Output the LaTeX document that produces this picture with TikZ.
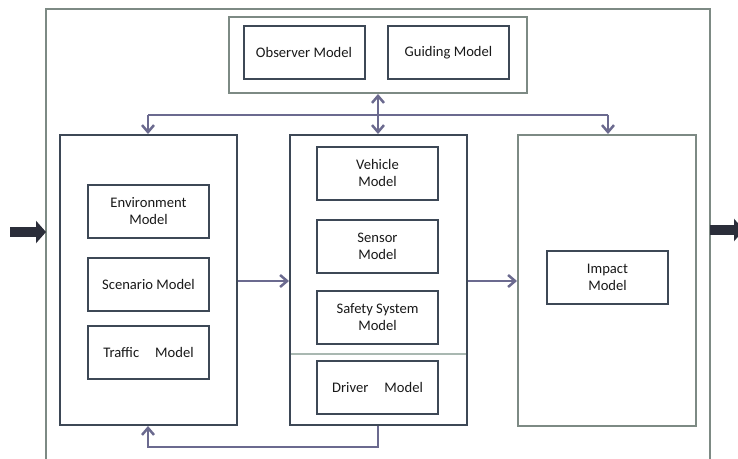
\documentclass[tikz,border=0pt]{standalone}
\usepackage{fontspec}
\setmainfont{Carlito}
\usetikzlibrary{arrows.meta}
\definecolor{boxline}{HTML}{3D4856}
\definecolor{frameline}{HTML}{7D8A84}
\definecolor{sepline}{HTML}{A9B8B1}
\definecolor{flow}{HTML}{6B6A8F}
\definecolor{ioarrow}{HTML}{2B2E3A}
\tikzset{
  model/.style={draw=boxline, line width=2pt, fill=white, minimum width=121pt,
    minimum height=53pt, align=center, inner sep=2pt,
    font=\fontsize{14.6pt}{17pt}\selectfont, text=black!90},
  group/.style={draw=boxline, line width=2pt, fill=white, minimum width=177pt,
    minimum height=290pt},
  softgroup/.style={draw=frameline, line width=2pt, fill=white},
  flowline/.style={draw=flow, line width=2.5pt},
  flowarrow/.style={flowline, -{Straight Barb[length=7pt,width=12pt,line width=2.5pt]}},
  bothflow/.style={flowline, {Straight Barb[length=7pt,width=12pt,line width=2.5pt]}-{Straight Barb[length=7pt,width=12pt,line width=2.5pt]}},
  ioline/.style={draw=ioarrow, line width=10pt, -{Triangle[length=10pt,width=22pt]}}
}
\begin{document}
\begin{tikzpicture}[x=1pt, y=-1pt]
\useasboundingbox[fill=white] (0,0) rectangle (738,458);

% open system frame
\coordinate (fbl) at (46,470);
\coordinate (ftl) at (46,9);
\coordinate (ftr) at (710,9);
\coordinate (fbr) at (710,470);
\draw[frameline, line width=2pt] (fbl) -- (ftl) -- (ftr) -- (fbr);

% supervising models
\node[softgroup, minimum width=298pt, minimum height=76pt] (top) at (378,55) {};
\node[model] (observer) at (304,52.5) {Observer Model};
\node[model] (guiding) at (448.5,52.5) {Guiding Model};

% world models
\node[group] (world) at (148.5,280) {};
\node[model] (env) at (148.5,211.5) {Environment\\Model};
\node[model] (scen) at (148.5,284) {Scenario Model};
\node[model] (traffic) at (148.5,352.5) {Traffic\hspace{1.1em}Model};

% vehicle models
\node[group] (vehicle) at (378.5,280) {};
\coordinate (sepl) at (291,354);
\coordinate (sepr) at (466,354);
\draw[sepline, line width=1.8pt] (sepl) -- (sepr);
\node[model] (veh) at (377.5,173) {Vehicle\\Model};
\node[model] (sensor) at (377.5,246.5) {Sensor\\Model};
\node[model] (safety) at (377.5,317.5) {Safety System\\Model};
\node[model] (driver) at (377.5,387.5) {Driver\hspace{1.1em}Model};

% impact
\node[softgroup, minimum width=178pt, minimum height=291pt] (impactgrp) at (607,280.5) {};
\node[model] (impact) at (607.5,277.5) {Impact\\Model};

% information bus
\coordinate (busl) at (148,115);
\coordinate (busr) at (608,115);
\draw[flowline] (busl) -- (busr);
\draw[flowarrow] (busl) -- (world.north -| busl);
\draw[flowarrow] (busr) -- (impactgrp.north -| busr);
\draw[bothflow] (top.south) -- (vehicle.north -| top.south);

% forward flow
\draw[flowarrow] (world.east |- 0,281) -- (vehicle.west |- 0,281);
\draw[flowarrow] (vehicle.east |- 0,281) -- (impactgrp.west |- 0,281);

% feedback loop
\coordinate (fbbot) at (148,447);
\draw[flowarrow] (vehicle.south -| top.south) |- (fbbot) -- (world.south -| fbbot);

% system input and output
\coordinate (inl) at (10,232);
\coordinate (outr) at (744,230);
\draw[ioline] (inl) -- (ftl |- inl);
\draw[ioline] (ftr |- outr) -- (outr);
\end{tikzpicture}
\end{document}
